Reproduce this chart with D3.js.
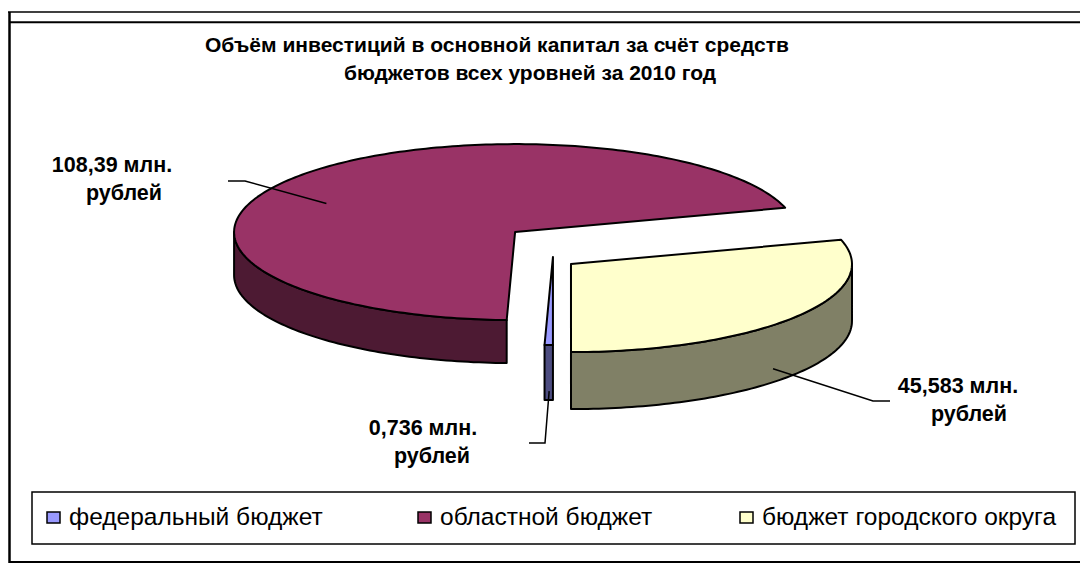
<!DOCTYPE html>
<html>
<head>
<meta charset="utf-8">
<script src="https://cdn.jsdelivr.net/npm/d3@7"></script>
<style>
  body { margin: 0; background: #fff; }
  svg { display: block; font-family: "Liberation Sans", Arial, sans-serif; }
</style>
</head>
<body>
<div id="chart"></div>
<script>
// data
var categories = ["федеральный бюджет", "областной бюджет", "бюджет городского округа"];
var values = [0.736, 108.39, 45.583];
var valueLabels = ["0,736 млн.", "108,39 млн.", "45,583 млн."];
var unitLabel = "рублей";
var titleLines = ["Объём инвестиций в основной капитал за счёт средств",
                  "бюджетов всех уровней за 2010 год"];

// styles
var topColors = ["#9999FF", "#993366", "#FFFFCC"];
var sideColors = ["#4D4D80", "#4D1A33", "#808066"];

var W = 1080, H = 567;
var pieCx = 553, pieCy = 254, rx = 281, ry = 88;
var explode = [4, 48, 22.5], explodeRatio = 0.744;
var depth = [55, 43, 57];

// label boxes: x = centre of first line, y = first baseline, leader knee and tail
var labelLayout = [
	{ x: 423, y: 435, dx2: 9,  knee: [545, 443], tail: [529, 443] },
	{ x: 112, y: 172, dx2: 12, knee: [245, 181], tail: [228, 181] },
	{ x: 958, y: 393, dx2: 11, knee: [873, 401], tail: [890, 401] }
];

var svg = d3.select("#chart").append("svg")
	.attr("width", W)
	.attr("height", H);

// outer frame
var frame = svg.append("g").attr("stroke", "#000").attr("fill", "none");
frame.append("line").attr("x1", 8).attr("x2", W).attr("y1", 12).attr("y2", 12).attr("stroke-width", 1.5);
frame.append("line").attr("x1", 9).attr("x2", W).attr("y1", 22.3).attr("y2", 22.3).attr("stroke-width", 2);
frame.append("line").attr("x1", 9.5).attr("x2", 9.5).attr("y1", 12).attr("y2", 563).attr("stroke-width", 2.5);
frame.append("line").attr("x1", 9).attr("x2", W).attr("y1", 562).attr("y2", 562).attr("stroke-width", 2);

// title
svg.append("text")
	.attr("x", 497).attr("y", 52)
	.attr("text-anchor", "middle")
	.attr("font-weight", "bold").attr("font-size", 21)
	.text(titleLines[0]);
svg.append("text")
	.attr("x", 530).attr("y", 80)
	.attr("text-anchor", "middle")
	.attr("font-weight", "bold").attr("font-size", 21)
	.text(titleLines[1]);

var pie = d3.pie().sort(null).startAngle(Math.PI).endAngle(3 * Math.PI);
var arcs = pie(values);

var line = d3.line();

function pt(c, a, h) {
	return [c[0] + rx * Math.sin(a), c[1] - ry * Math.cos(a) + h];
}

function arcPoints(c, a0, a1, h) {
	var n = Math.max(2, Math.ceil(Math.abs(a1 - a0) / 0.02));
	return d3.range(n + 1).map(function (i) { return pt(c, a0 + (a1 - a0) * i / n, h); });
}

arcs.forEach(function (d, i) {
	var mid = (d.startAngle + d.endAngle) / 2;
	d.center = [pieCx + explode[i] * Math.sin(mid),
	            pieCy - explode[i] * explodeRatio * Math.cos(mid)];
	d.mid = mid;
	d.depth = depth[i];
});

// draw back slice first
var order = [1, 0, 2];
var slices = svg.append("g").attr("stroke", "#000").attr("stroke-width", 2).attr("stroke-linejoin", "round");

order.forEach(function (i) {
	var d = arcs[i];
	// visible outer wall: front half of the cylinder
	[0, 1].forEach(function (k) {
		var lo = Math.max(d.startAngle, Math.PI / 2 + 2 * Math.PI * k);
		var hi = Math.min(d.endAngle, 3 * Math.PI / 2 + 2 * Math.PI * k);
		if (lo < hi) {
			var pts = arcPoints(d.center, lo, hi, 0)
				.concat(arcPoints(d.center, hi, lo, d.depth));
			slices.append("path")
				.attr("d", line(pts) + "Z")
				.attr("fill", sideColors[i]);
		}
	});
	var top = [d.center].concat(arcPoints(d.center, d.startAngle, d.endAngle, 0));
	slices.append("path")
		.attr("d", line(top) + "Z")
		.attr("fill", topColors[i]);
});

// leaders and value labels
arcs.forEach(function (d, i) {
	var L = labelLayout[i];
	var front = Math.cos(d.mid) < 0;
	var f = front ? 0.9 : 0.85;
	var end = [d.center[0] + rx * f * Math.sin(d.mid),
	           d.center[1] - ry * f * Math.cos(d.mid) + d.depth * (front ? 1 : 0.4)];
	svg.append("path")
		.attr("d", line([L.tail, L.knee, end]))
		.attr("fill", "none")
		.attr("stroke", "#000")
		.attr("stroke-width", 1.5);

	var t = svg.append("text")
		.attr("text-anchor", "middle")
		.attr("font-weight", "bold")
		.attr("font-size", 21.5);
	t.append("tspan").attr("x", L.x).attr("y", L.y).text(valueLabels[i]);
	t.append("tspan").attr("x", L.x + L.dx2).attr("y", L.y + 28).text(unitLabel);
});

// legend
var legend = svg.append("g");
legend.append("rect")
	.attr("x", 32).attr("y", 492)
	.attr("width", 1043).attr("height", 52)
	.attr("fill", "#fff").attr("stroke", "#000").attr("stroke-width", 1.5);

var legendX = [47, 418, 740];
categories.forEach(function (c, i) {
	var g = legend.append("g").attr("transform", "translate(" + legendX[i] + ",512)");
	g.append("rect")
		.attr("width", 13).attr("height", 11)
		.attr("fill", topColors[i])
		.attr("stroke", "#000").attr("stroke-width", 1.5);
	g.append("text")
		.attr("x", 22).attr("y", 13)
		.attr("font-size", 24.5)
		.text(c);
});
</script>
</body>
</html>
